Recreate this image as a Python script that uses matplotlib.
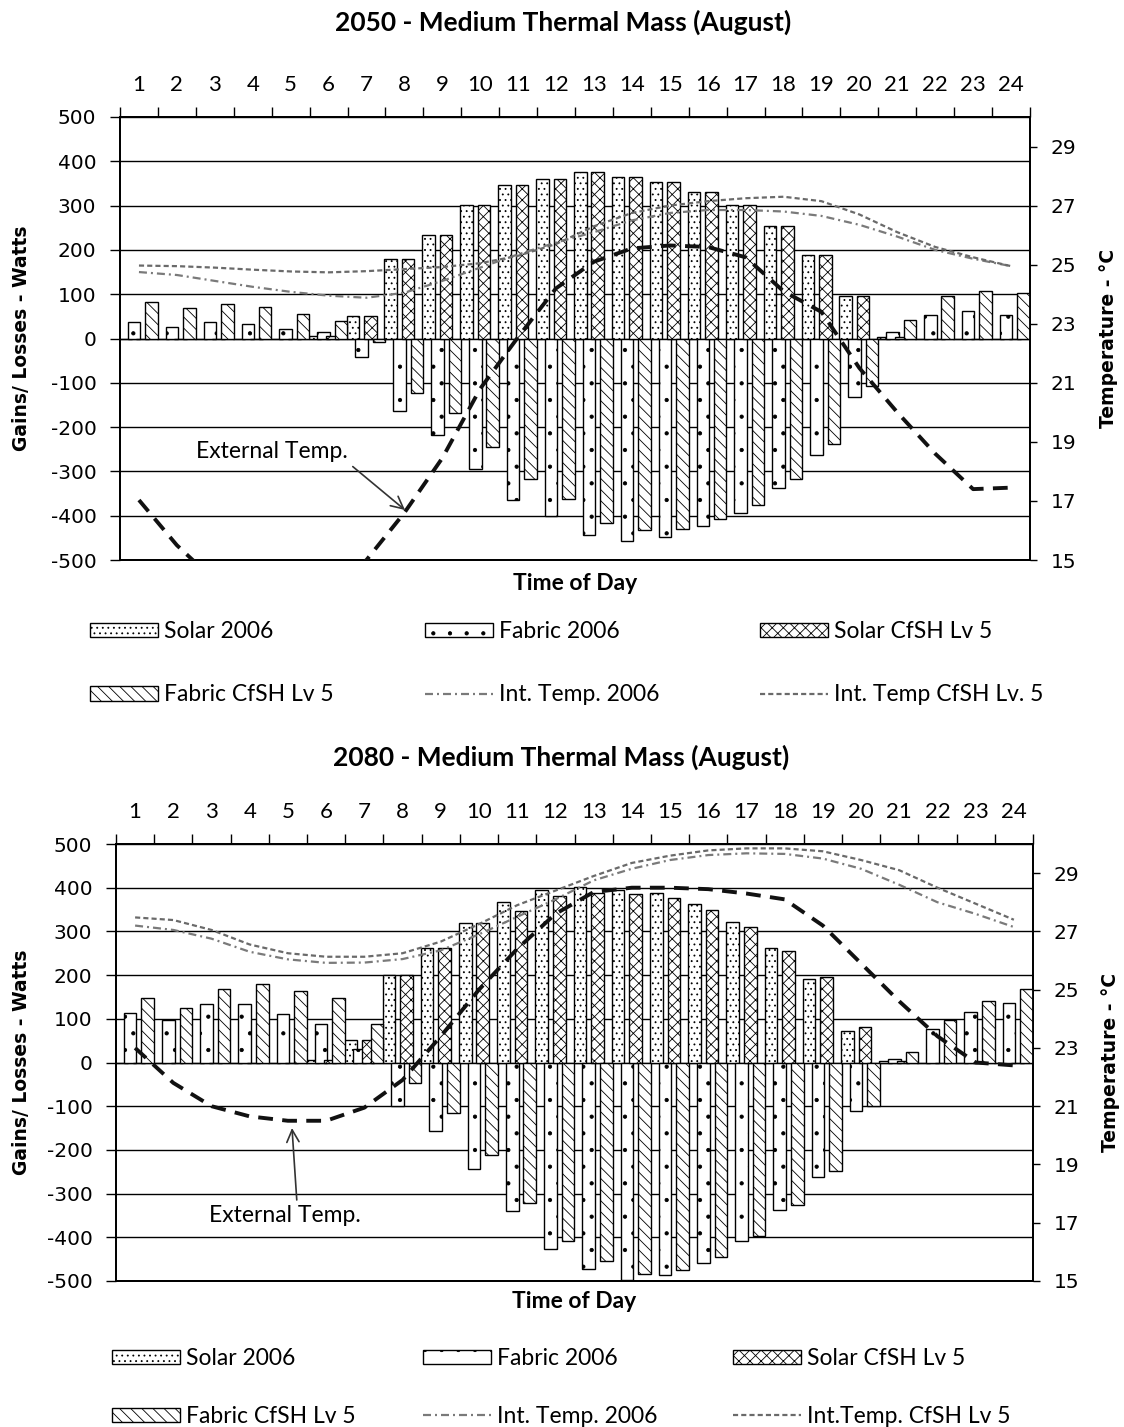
import matplotlib
matplotlib.use('Agg')
import matplotlib.pyplot as plt
import numpy as np
from matplotlib.patches import Patch
from matplotlib.lines import Line2D

# ---------------- data ----------------
hours = list(range(1, 25))
hour_labels = [str(h) for h in hours]
gain_ticks = list(range(-500, 501, 100))
temp_ticks = [15, 17, 19, 21, 23, 25, 27, 29]

# 2050
solar06_2050 = [0, 0, 0, 0, 0, 5, 50, 180, 234, 301, 347, 360, 375, 365, 353, 330, 301, 253, 189, 97, 4, 0, 0, 0]
fabric06_2050 = [37, 27, 37, 32, 22, 14, -42, -164, -217, -295, -365, -401, -443, -457, -447, -424, -393, -338, -262, -131, 14, 54, 63, 54]
solarcf_2050 = [0, 0, 0, 0, 0, 5, 50, 180, 234, 301, 347, 360, 375, 365, 353, 330, 301, 253, 189, 97, 4, 0, 0, 0]
fabriccf_2050 = [82, 68, 77, 72, 55, 40, -8, -123, -168, -244, -317, -362, -416, -433, -429, -407, -375, -317, -239, -108, 41, 97, 107, 103]
int06_2050 = [24.75, 24.65, 24.45, 24.25, 24.08, 23.95, 23.88, 24.05, 24.45, 24.9, 25.35, 25.75, 26.1, 26.5, 26.75, 26.85, 26.85, 26.8, 26.65, 26.35, 25.95, 25.5, 25.2, 24.95]
intcf_2050 = [24.97, 24.95, 24.9, 24.83, 24.77, 24.74, 24.78, 24.85, 24.92, 25.05, 25.3, 25.7, 26.3, 26.75, 27.0, 27.15, 27.25, 27.3, 27.15, 26.7, 26.1, 25.6, 25.25, 24.95]
ext_2050 = [17.03, 15.5, 14.3, 13.8, 13.7, 14.1, 15.0, 16.6, 18.45, 20.8, 22.55, 24.2, 25.1, 25.55, 25.65, 25.6, 25.25, 24.1, 23.4, 21.5, 20.0, 18.6, 17.4, 17.45]

# 2080
solar06_2080 = [0, 0, 0, 0, 0, 5, 51, 200, 261, 320, 368, 395, 401, 395, 389, 363, 321, 261, 191, 73, 4, 0, 0, 0]
fabric06_2080 = [114, 98, 134, 134, 110, 88, 32, -100, -156, -244, -340, -426, -472, -498, -487, -459, -408, -338, -262, -111, 9, 76, 115, 137]
solarcf_2080 = [0, 0, 0, 0, 0, 5, 51, 200, 261, 320, 347, 382, 389, 385, 376, 349, 311, 256, 196, 82, 4, 0, 0, 0]
fabriccf_2080 = [147, 124, 169, 179, 164, 147, 88, -47, -115, -211, -321, -408, -454, -483, -474, -445, -398, -325, -248, -100, 23, 98, 141, 169]
int06_2080 = [27.2, 27.05, 26.75, 26.3, 26.04, 25.92, 25.93, 26.05, 26.35, 26.9, 27.5, 28.1, 28.75, 29.15, 29.45, 29.62, 29.68, 29.66, 29.5, 29.15, 28.6, 28.0, 27.6, 27.15]
intcf_2080 = [27.48, 27.39, 27.05, 26.55, 26.25, 26.13, 26.13, 26.25, 26.65, 27.25, 27.9, 28.4, 28.9, 29.35, 29.6, 29.78, 29.85, 29.85, 29.75, 29.45, 29.1, 28.5, 27.95, 27.4]
ext_2080 = [23.0, 21.8, 21.0, 20.65, 20.5, 20.5, 20.95, 21.9, 23.4, 25.0, 26.4, 27.6, 28.35, 28.5, 28.5, 28.45, 28.3, 28.1, 27.2, 25.9, 24.6, 23.4, 22.5, 22.4]

# ---------------- figure ----------------
W, H = 1124, 1427
fig = plt.figure(figsize=(W / 100, H / 100), dpi=100)
plt.rcParams['hatch.linewidth'] = 0.6

SANS = ['Lato', 'DejaVu Sans']
TICKF = ['DejaVu Sans']


def rect(l, t, r, b):
    return [l / W, 1 - b / H, (r - l) / W, (b - t) / H]


def fx(x):
    return x / W


def fy(y):
    return 1 - y / H


hatches = ['...', '.', 'xxx', '\\\\\\']
offsets = [-0.36, -0.13, 0.10, 0.33]
bar_w = 0.33
ls_int06 = (0, (3.6, 1.8, 0.9, 1.8))
ls_intcf = (0, (2.3, 1.4))
ls_ext = (0, (3.8, 2.4))
gray06 = '#7a7a7a'
graycf = '#6a6a6a'


def panel(box, bars, int06, intcf, ext, title, title_xy, ylab_x, rlab_x, xlab_xy,
          ann_text_xy, ann_head_xy, ann_relpos, legend_xs, legend_y, leg_labels, legspacing):
    ax = fig.add_axes(rect(*box))
    x = np.array(hours, dtype=float)
    for i, vals in enumerate(bars):
        ax.bar(x + offsets[i], vals, bar_w, facecolor='white', edgecolor='black',
               hatch=hatches[i], linewidth=1.0, zorder=2 + i)
    ax.set_xlim(0.5, 24.5)
    ax.set_ylim(-500, 500)
    ax.set_yticks(gain_ticks)
    ax.set_yticklabels([str(v) for v in gain_ticks], family=TICKF, fontsize=14.5)
    ax.yaxis.grid(True, color='black', linewidth=1.0)
    ax.set_axisbelow(True)
    ax.tick_params(axis='y', direction='out', length=7, width=1.0, pad=10)
    ax.xaxis.tick_top()
    ax.set_xticks(hours)
    ax.set_xticklabels(hour_labels, family=SANS, fontsize=16)
    ax.set_xticks(np.arange(0.5, 25, 1.0), minor=True)
    ax.tick_params(axis='x', which='major', length=0, pad=16, top=True, bottom=False)
    ax.tick_params(axis='x', which='minor', length=7, width=1.0, direction='out', top=True, bottom=False)
    for s in ax.spines.values():
        s.set_linewidth(1.3)

    ax2 = ax.twinx()
    ax2.set_ylim(15, 30)
    ax2.set_yticks(temp_ticks)
    ax2.set_yticklabels([str(v) for v in temp_ticks], family=TICKF, fontsize=14.5)
    ax2.tick_params(axis='y', direction='out', length=5, width=1.0, pad=10)
    for s in ax2.spines.values():
        s.set_linewidth(1.3)
    ax2.plot(x, int06, color=gray06, linewidth=1.6, linestyle=ls_int06, zorder=3)
    ax2.plot(x, intcf, color=graycf, linewidth=1.6, linestyle=ls_intcf, zorder=3)
    ax2.plot(x, ext, color='#111111', linewidth=2.8, linestyle=ls_ext, zorder=4)

    ax2.annotate('External Temp.', xy=ann_head_xy, xytext=ann_text_xy,
                 xycoords='figure pixels', textcoords='figure pixels',
                 ha='center', va='center', family=SANS, fontsize=16.5,
                 arrowprops=dict(arrowstyle='->', color='#333333', lw=1.2,
                                 mutation_scale=22, relpos=ann_relpos,
                                 shrinkA=2, shrinkB=0))

    fig.text(fx(title_xy[0]), fy(title_xy[1]), title, ha='center', va='center',
             family=SANS, fontsize=19, fontweight='bold')
    cy = (box[1] + box[3]) / 2
    fig.text(fx(ylab_x), fy(cy), 'Gains/ Losses - Watts', rotation=90, ha='center',
             va='center', family=TICKF, fontsize=13.5, fontweight='bold')
    fig.text(fx(rlab_x), fy(cy), 'Temperature - °C', rotation=90, ha='center',
             va='center', family=TICKF, fontsize=13.5, fontweight='bold')
    fig.text(fx(xlab_xy[0]), fy(xlab_xy[1]), 'Time of Day', ha='center', va='center',
             family=SANS, fontsize=16.5, fontweight='bold')

    handles = [Patch(facecolor='white', edgecolor='black', hatch=hatches[0], linewidth=1.0),
               Patch(facecolor='white', edgecolor='black', hatch=hatches[1], linewidth=1.0),
               Patch(facecolor='white', edgecolor='black', hatch=hatches[2], linewidth=1.0),
               Patch(facecolor='white', edgecolor='black', hatch=hatches[3], linewidth=1.0),
               Line2D([], [], color=gray06, linewidth=1.6, linestyle=ls_int06),
               Line2D([], [], color=graycf, linewidth=1.6, linestyle=ls_intcf)]
    cols = [(0, 3), (1, 4), (2, 5)]
    for c, (a, b) in enumerate(cols):
        fig.legend([handles[a], handles[b]], [leg_labels[a], leg_labels[b]],
                   loc='upper left', bbox_to_anchor=(fx(legend_xs[c]), fy(legend_y)),
                   frameon=False, borderpad=0, borderaxespad=0, handlelength=2.95,
                   handleheight=0.6, handletextpad=0.3, labelspacing=legspacing,
                   prop={'family': SANS, 'size': 16.5})
    return ax, ax2


panel((120, 117, 1030, 560),
      [solar06_2050, fabric06_2050, solarcf_2050, fabriccf_2050],
      int06_2050, intcf_2050, ext_2050,
      '2050 - Medium Thermal Mass (August)', (563, 22), 22, 1108, (575, 583),
      (272, H - 452), (405, H - 510), (1.0, 0.0),
      (90, 425, 760), 621,
      ['Solar 2006', 'Fabric 2006', 'Solar CfSH Lv 5', 'Fabric CfSH Lv 5',
       'Int. Temp. 2006', 'Int. Temp CfSH Lv. 5'], 1.85)

panel((116, 844, 1033, 1281),
      [solar06_2080, fabric06_2080, solarcf_2080, fabriccf_2080],
      int06_2080, intcf_2080, ext_2080,
      '2080 - Medium Thermal Mass (August)', (561, 757), 22, 1110, (574, 1302),
      (285, H - 1216), (292, H - 1128), (0.58, 1.0),
      (112, 423, 733), 1348,
      ['Solar 2006', 'Fabric 2006', 'Solar CfSH Lv 5', 'Fabric CfSH Lv 5',
       'Int. Temp. 2006', 'Int.Temp. CfSH Lv 5'], 1.62)

fig.savefig('out.png', dpi=100)
